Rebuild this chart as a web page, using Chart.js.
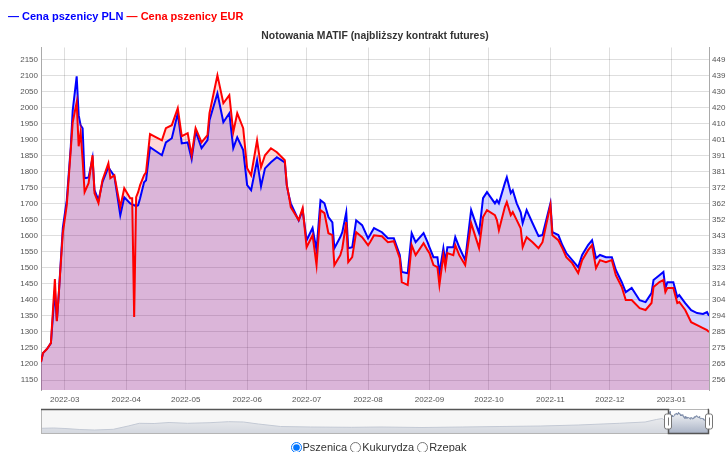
<!DOCTYPE html>
<html>
<head>
<meta charset="utf-8">
<script src="https://cdn.jsdelivr.net/npm/chart.js@4"></script>
<style>
  body { margin: 0; background: #fff; font-family: 'Liberation Sans', Arial, sans-serif; }
  #wrap { position: relative; width: 727px; height: 452px; overflow: hidden; }
  #legend { position: absolute; left: 8px; top: 10px; font-size: 11px; font-weight: bold; line-height: 13px; white-space: nowrap; z-index: 2; }
  #main { position: absolute; left: 0; top: 0; }
  #mini { position: absolute; left: 0; top: 404px; }
  #pick { position: absolute; left: 43px; width: 668px; top: 441px; text-align: center; font-size: 11px; line-height: 13px; color: #333; }
  #pick label { margin: 0; }
  #pick input { width: 11px; height: 11px; margin: 0 1px 0 3px; vertical-align: -2px; }
</style>
</head>
<body>
<div id="wrap">
  <canvas id="main" width="727" height="406"></canvas>
  <canvas id="mini" width="727" height="34"></canvas>
  <div id="legend"></div>
  <div id="pick"></div>
</div>
<script>
// Dane: notowania MATIF, najbliższy kontrakt (odczyt z wykresu)
const dates = [
  '2022-02-17','2022-02-18','2022-02-20','2022-02-21','2022-02-22','2022-02-24','2022-02-25','2022-02-26','2022-02-28',
  '2022-03-02','2022-03-04','2022-03-05','2022-03-07','2022-03-08','2022-03-09','2022-03-10','2022-03-11','2022-03-13',
  '2022-03-15','2022-03-16','2022-03-18','2022-03-20','2022-03-23','2022-03-24','2022-03-26','2022-03-29','2022-03-31',
  '2022-04-03','2022-04-04','2022-04-05','2022-04-06','2022-04-07','2022-04-08','2022-04-10','2022-04-11','2022-04-13',
  '2022-04-19','2022-04-21','2022-04-24','2022-04-27','2022-04-29',
  '2022-05-02','2022-05-04','2022-05-06','2022-05-09','2022-05-12','2022-05-13','2022-05-17','2022-05-20','2022-05-23',
  '2022-05-25','2022-05-27','2022-05-30',
  '2022-06-01','2022-06-03','2022-06-06','2022-06-08','2022-06-10','2022-06-13','2022-06-16','2022-06-20','2022-06-21',
  '2022-06-22','2022-06-23','2022-06-27','2022-06-29',
  '2022-07-01','2022-07-04','2022-07-06','2022-07-08','2022-07-10','2022-07-12','2022-07-14','2022-07-15','2022-07-18',
  '2022-07-19','2022-07-21','2022-07-22','2022-07-24','2022-07-26','2022-07-29',
  '2022-08-01','2022-08-02','2022-08-04','2022-08-08','2022-08-11','2022-08-14','2022-08-17','2022-08-18','2022-08-21',
  '2022-08-23','2022-08-25','2022-08-29','2022-08-31',
  '2022-09-01','2022-09-03','2022-09-05','2022-09-06','2022-09-08','2022-09-09','2022-09-10','2022-09-13','2022-09-14',
  '2022-09-16','2022-09-19','2022-09-22','2022-09-26','2022-09-28','2022-09-30',
  '2022-10-04','2022-10-05','2022-10-06','2022-10-09','2022-10-10','2022-10-12','2022-10-13','2022-10-15','2022-10-17',
  '2022-10-18','2022-10-20','2022-10-23','2022-10-26','2022-10-28',
  '2022-11-01','2022-11-02','2022-11-05','2022-11-07','2022-11-09','2022-11-12','2022-11-15','2022-11-17','2022-11-20',
  '2022-11-22','2022-11-24','2022-11-26','2022-11-29',
  '2022-12-02','2022-12-04','2022-12-07','2022-12-09','2022-12-12','2022-12-16','2022-12-19','2022-12-22','2022-12-23',
  '2022-12-26','2022-12-28','2022-12-29','2022-12-30',
  '2023-01-02','2023-01-04','2023-01-05','2023-01-08','2023-01-11','2023-01-14','2023-01-17','2023-01-19','2023-01-20'
];

const pricePLN = [
  1206,1234,1247,1256,1265,1430,1334,1421,1624,
  1711,1876,1991,2097,1976,1944,1935,1779,1782,
  1842,1742,1711,1767,1814,1804,1786,1664,1720,
  1701,1698,1695,1692,1695,1717,1767,1773,1876,
  1851,1891,1904,1982,1888,
  1891,1839,1926,1873,1898,1960,2044,1954,1982,
  1873,1907,1867,
  1758,1742,1835,1754,1810,1829,1845,1829,1758,
  1726,1701,1648,1680,
  1586,1624,1555,1711,1701,1658,1642,1561,1596,
  1611,1673,1561,1564,1648,1633,
  1592,1602,1624,1611,1592,1592,1540,1487,1483,
  1608,1580,1608,1580,
  1564,1533,1533,1483,1561,1518,1564,1564,1596,
  1564,1524,1680,1608,1717,1736,
  1701,1711,1701,1764,1782,1733,1742,1701,1673,
  1639,1680,1639,1599,1602,
  1701,1611,1602,1571,1546,1524,1502,1540,1571,
  1586,1530,1540,1533,
  1533,1493,1455,1424,1437,1399,1393,1421,1462,
  1477,1487,1437,1455,
  1455,1409,1415,1390,1368,1359,1356,1362,1350
];

const priceEUR = [
  266.7,272.1,274.5,276.3,278.1,316.6,291.3,308.2,344.2,
  361.1,394.1,411.0,423.0,396.5,405.0,388.1,368.9,374.3,
  391.1,368.3,362.3,376.1,386.3,377.3,379.1,359.9,371.3,
  365.3,365.3,293.8,365.9,368.9,373.1,379.1,380.9,403.8,
  400.1,407.4,409.2,419.4,402.6,
  404.4,391.1,407.4,398.9,403.2,416.4,439.2,422.4,427.2,
  405.0,416.4,407.4,
  383.3,379.1,400.1,383.9,391.1,395.3,392.9,388.1,373.1,
  367.1,359.9,352.1,359.3,
  335.8,343.0,325.0,358.1,356.3,344.2,343.0,325.0,331.0,
  335.2,350.9,326.8,329.8,344.8,341.8,
  337.0,338.8,343.0,342.4,338.8,339.4,329.2,314.8,313.0,
  337.0,331.0,338.2,334.0,
  332.2,325.0,323.8,313.0,331.0,323.8,332.2,331.0,337.0,
  331.0,325.0,350.3,335.2,353.9,358.1,
  355.1,352.1,346.0,359.9,362.9,355.1,356.9,352.1,347.2,
  335.8,341.8,338.8,335.2,338.8,
  361.1,343.0,340.0,335.2,329.8,326.2,320.2,328.0,334.0,
  337.0,323.2,328.0,326.8,
  328.0,319.0,311.8,304.0,304.0,299.1,298.0,302.2,311.8,
  314.8,316.0,308.8,311.2,
  311.2,302.2,302.8,298.0,290.7,288.9,287.1,285.9,284.7
];

// Historia do paska zakresu (odczyt z miniatury)
const historyDates = [
  '2008-02-01','2008-05-15','2008-08-15','2008-12-15','2009-04-15','2009-09-15','2010-01-15','2010-04-15',
  '2010-08-15','2010-12-15','2011-05-15','2011-11-15','2012-04-15','2012-08-15','2012-12-15','2013-06-15',
  '2014-02-15','2015-01-15','2015-09-15','2016-08-15','2017-07-15','2018-05-15','2019-04-15','2020-02-15',
  '2021-01-15','2021-08-15','2021-11-15','2022-01-01'
];
const historyPLN = [
  756,780,740,660,620,676,940,1156,
  1140,1220,1156,1204,1284,1260,1100,900,
  860,836,860,820,860,900,940,1020,
  1156,1260,1460,1540
];

const seriesNames = ['Cena pszenicy PLN', 'Cena pszenicy EUR'];
const seriesColors = ['#0000ff', '#ff0000'];
const chartTitle = 'Notowania MATIF (najbliższy kontrakt futures)';
const commodities = ['Pszenica', 'Kukurydza', 'Rzepak'];

// zakres osi PLN i przeliczenie na oś EUR
const plnMin = 1119, plnMax = 2187;
const eurOf = v => 255.85 + (v - 1150) * 0.19296;

function dayNum(s) {
    const [y, m, d] = s.split('-').map(Number);
    return Date.UTC(y, m - 1, d) / 864e5;
}
function monthLabel(v) {
    return new Date(v * 864e5).toISOString().slice(0, 7);
}

const plnPoints = dates.map((d, i) => ({ x: dayNum(d), y: pricePLN[i] }));
const eurPoints = dates.map((d, i) => ({ x: dayNum(d), y: priceEUR[i] }));
const firstDay = dayNum(dates[0]);
const lastDay = dayNum(dates[dates.length - 1]);

// legenda i przełącznik
document.getElementById('legend').innerHTML = seriesNames.map((n, i) =>
    `<span style="color:${seriesColors[i]}">— ${n}</span>`).join(' ');
document.getElementById('pick').innerHTML = commodities.map((c, i) =>
    `<label><input type="radio" name="comm" ${i === 0 ? 'checked' : ''}>${c}</label>`).join('');

const tickFont = { family: "'Liberation Sans', Arial, sans-serif", size: 8 };
const gridColor = 'rgba(0,0,0,0.13)';

new Chart(document.getElementById('main'), {
    type: 'line',
    data: {
        datasets: [
            { label: seriesNames[1], data: eurPoints, yAxisID: 'y1', borderColor: seriesColors[1],
              backgroundColor: 'rgba(255,0,0,0.15)', fill: 'start', order: 0 },
            { label: seriesNames[0], data: plnPoints, yAxisID: 'y', borderColor: seriesColors[0],
              backgroundColor: 'rgba(0,0,255,0.17)', fill: 'start', order: 1 }
        ]
    },
    options: {
        responsive: false,
        animation: false,
        devicePixelRatio: 1,
        layout: { padding: 0 },
        elements: {
            line: { borderWidth: 2, tension: 0 },
            point: { radius: 0, hoverRadius: 0 }
        },
        plugins: {
            legend: { display: false },
            tooltip: { enabled: false },
            filler: { drawTime: 'beforeDatasetsDraw' },
            title: {
                display: true, text: chartTitle, fullSize: false, color: '#333',
                font: { family: "'Liberation Sans', Arial, sans-serif", size: 10.4, weight: 'bold' },
                padding: { top: 30, bottom: 5 }
            }
        },
        scales: {
            x: {
                type: 'linear', min: firstDay, max: lastDay,
                afterBuildTicks: s => {
                    const t = [];
                    const d0 = new Date(s.min * 864e5);
                    let y = d0.getUTCFullYear(), m = d0.getUTCMonth() + 1;
                    for (;;) {
                        const v = Date.UTC(y, m, 1) / 864e5;
                        if (v > s.max) break;
                        t.push({ value: v });
                        m++;
                    }
                    s.ticks = t;
                },
                afterFit: s => { s.height = 16; },
                ticks: { callback: v => monthLabel(v), font: tickFont, color: '#555', padding: 5, maxRotation: 0, autoSkip: false },
                grid: { color: gridColor, drawTicks: false },
                border: { display: false }
            },
            y: {
                position: 'left', min: plnMin, max: plnMax,
                afterBuildTicks: s => {
                    const t = [];
                    for (let v = Math.ceil(s.min / 50) * 50; v <= s.max; v += 50) t.push({ value: v });
                    s.ticks = t;
                },
                afterFit: s => { s.width = 41; },
                ticks: { font: tickFont, color: '#555', padding: 3, callback: v => String(v) },
                grid: { color: gridColor, drawTicks: false },
                border: { color: '#aaa' }
            },
            y1: {
                position: 'right', min: eurOf(plnMin), max: eurOf(plnMax),
                afterBuildTicks: s => {
                    const t = [];
                    for (let v = Math.ceil(plnMin / 50) * 50; v <= plnMax; v += 50) t.push({ value: eurOf(v) });
                    s.ticks = t;
                },
                afterFit: s => { s.width = 18; },
                ticks: { font: tickFont, color: '#555', padding: 3, callback: v => String(Math.round(v)) },
                grid: { display: false, drawTicks: false },
                border: { color: '#aaa' }
            }
        }
    }
});

// Pasek zakresu (miniatura całej historii)
const miniPoints = historyDates.map((d, i) => ({ x: dayNum(d), y: historyPLN[i] }))
    .concat(plnPoints);

const rangePlugin = {
    id: 'rangeSel',
    afterDraw(chart) {
        const { ctx, chartArea: a, scales: { x } } = chart;
        const x0 = Math.round(x.getPixelForValue(firstDay));
        const x1 = Math.round(x.getPixelForValue(lastDay));
        ctx.save();
        ctx.fillStyle = 'rgba(240,240,240,0.6)';
        ctx.fillRect(a.left, a.top, x0 - a.left, a.bottom - a.top);
        ctx.fillRect(x1, a.top, a.right - x1, a.bottom - a.top);
        // ramka tła
        ctx.strokeStyle = '#b5b5b5';
        ctx.lineWidth = 1;
        ctx.strokeRect(a.left + 0.5, a.top + 0.5, a.right - a.left - 1, a.bottom - a.top - 1);
        // ramka wybranego okna
        ctx.strokeStyle = '#555';
        ctx.lineWidth = 1.5;
        ctx.beginPath();
        ctx.moveTo(a.left, a.top + 0.5);
        ctx.lineTo(x0 + 0.5, a.top + 0.5);
        ctx.lineTo(x0 + 0.5, a.bottom - 0.5);
        ctx.lineTo(x1 - 0.5, a.bottom - 0.5);
        ctx.lineTo(x1 - 0.5, a.top + 0.5);
        ctx.lineTo(a.right, a.top + 0.5);
        ctx.stroke();
        // uchwyty
        const mid = (a.top + a.bottom) / 2;
        [x0, x1].forEach(hx => {
            ctx.fillStyle = '#fff';
            ctx.strokeStyle = '#777';
            ctx.lineWidth = 1;
            ctx.beginPath();
            ctx.roundRect(hx - 3.5, mid - 7.5, 7, 15, 2);
            ctx.fill();
            ctx.stroke();
            ctx.beginPath();
            ctx.moveTo(hx + 0.5, mid - 4);
            ctx.lineTo(hx + 0.5, mid + 4);
            ctx.stroke();
        });
        ctx.restore();
    }
};

new Chart(document.getElementById('mini'), {
    type: 'line',
    data: {
        datasets: [{
            data: miniPoints,
            borderColor: '#808fab',
            borderWidth: 1,
            fill: 'start',
            backgroundColor: c => {
                const a = c.chart.chartArea;
                if (!a) return '#a7b1c4';
                const g = c.chart.ctx.createLinearGradient(0, a.top, 0, a.bottom);
                g.addColorStop(0, '#ffffff');
                g.addColorStop(1, '#a7b1c4');
                return g;
            }
        }]
    },
    options: {
        responsive: false,
        animation: false,
        devicePixelRatio: 1,
        layout: { padding: { left: 41, right: 18, top: 5, bottom: 4 } },
        elements: { line: { tension: 0 }, point: { radius: 0, hoverRadius: 0 } },
        plugins: { legend: { display: false }, tooltip: { enabled: false } },
        scales: {
            x: { type: 'linear', display: false, min: dayNum(historyDates[0]), max: lastDay },
            y: { display: false, min: 300, max: 2300 }
        }
    },
    plugins: [rangePlugin]
});
</script>
</body>
</html>
